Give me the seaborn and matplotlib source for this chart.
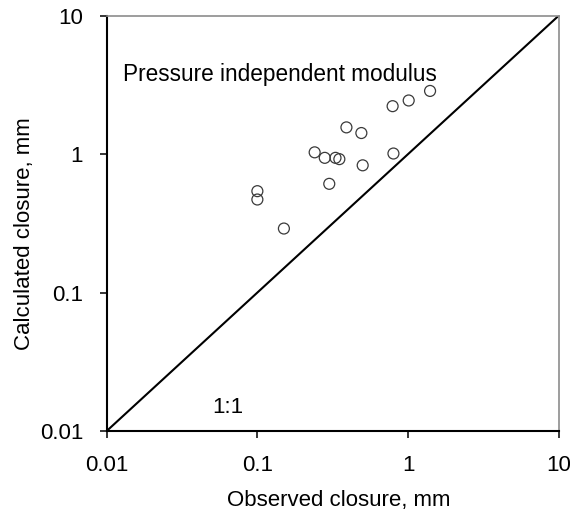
import matplotlib
matplotlib.use("Agg")
import matplotlib.pyplot as plt
import seaborn as sns
import pandas as pd

# Data
observed = [1.40, 1.01, 0.79, 0.39, 0.49, 0.24, 0.28, 0.33, 0.35, 0.80, 0.50, 0.30, 0.10, 0.10, 0.15]
calculated = [2.86, 2.44, 2.22, 1.56, 1.42, 1.03, 0.94, 0.94, 0.92, 1.01, 0.83, 0.61, 0.54, 0.47, 0.29]
one_to_one = [0.01, 10]
tick_values = [0.01, 0.1, 1, 10]
tick_labels = ["0.01", "0.1", "1", "10"]

sns.set_theme(style="white")
plt.rcParams["font.family"] = ["Liberation Sans", "DejaVu Sans"]

df = pd.DataFrame({"obs": observed, "calc": calculated})
line_df = pd.DataFrame({"x": one_to_one, "y": one_to_one})

fig = plt.figure(figsize=(5.7, 5.14), dpi=100)
ax = fig.add_axes([0.1872, 0.1615, 0.9802 - 0.1872, 0.9695 - 0.1615])

sns.lineplot(data=line_df, x="x", y="y", ax=ax, color="black", linewidth=1.5)
sns.scatterplot(data=df, x="obs", y="calc", ax=ax, marker="o", s=62,
                facecolor="none", edgecolor="#3a3a3a", linewidth=0.9, zorder=3)

ax.set_xscale("log")
ax.set_yscale("log")
ax.set_xlim(0.01, 10)
ax.set_ylim(0.01, 10)
ax.set_xticks(tick_values)
ax.set_xticklabels(tick_labels)
ax.set_yticks(tick_values)
ax.set_yticklabels(tick_labels)
ax.minorticks_off()
ax.tick_params(axis="both", which="major", direction="out", length=5, width=1.1,
               color="black", labelsize=16, labelcolor="black",
               bottom=True, left=True)
ax.tick_params(axis="x", pad=12)
ax.tick_params(axis="y", pad=12)

for side in ["left", "bottom"]:
    ax.spines[side].set_color("black")
    ax.spines[side].set_linewidth(1.5)
for side in ["top", "right"]:
    ax.spines[side].set_color("#8c8c8c")
    ax.spines[side].set_linewidth(1.2)

ax.set_xlabel("Observed closure, mm", fontsize=16, color="black")
ax.set_ylabel("Calculated closure, mm", fontsize=16, color="black")
ax.xaxis.set_label_coords(0.514, -0.143)
ax.yaxis.set_label_coords(-0.158, 0.476)

ax.text(0.0129, 3.38, "Pressure independent modulus", fontsize=16.3,
        va="baseline", ha="left", color="black")
ax.text(0.05, 0.0136, "1:1", fontsize=16, va="baseline", ha="left", color="black")

fig.savefig("out.png", dpi=100, facecolor="white")
